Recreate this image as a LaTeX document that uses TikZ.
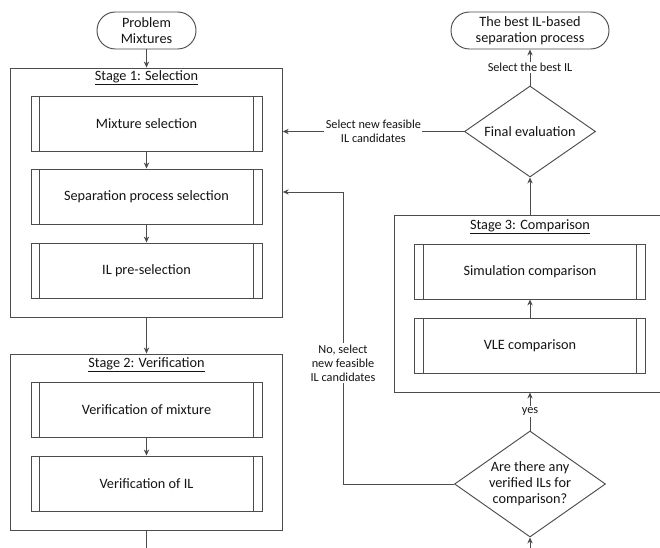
\documentclass[tikz,border=0pt]{standalone}
\usepackage{fontspec}
\setmainfont{Carlito}
\usetikzlibrary{shapes.geometric,arrows.meta}
\colorlet{ln}{black!70}
\tikzset{
  arr/.style={-{Stealth[length=4.5pt,width=4pt]}},
  term/.style={draw=ln, rounded corners=13.8pt, minimum height=27.75pt, align=center, inner sep=1pt},
  stage/.style={draw=ln},
  subproc/.style={draw=ln, minimum width=173.25pt, minimum height=41.25pt,
    path picture={\draw[ln] ([xshift=6.5pt]path picture bounding box.north west) -- ([xshift=6.5pt]path picture bounding box.south west)
      ([xshift=-6.5pt]path picture bounding box.north east) -- ([xshift=-6.5pt]path picture bounding box.south east);}},
  decision/.style={diamond, draw=ln, align=center, inner sep=0pt},
  lab/.style={fill=white, text=black!92, font=\fontsize{9.2}{10.6}\selectfont, align=center, inner sep=1pt},
}
\begin{document}
\begin{tikzpicture}[x=0.75pt,y=-0.75pt,line width=0.7pt,font=\fontsize{10.7}{12}\selectfont,text=black!92]
\clip (0,0) rectangle (660,548);
\fill[white] (0,0) rectangle (660,548);
\node[term, minimum width=74.25pt] (pm) at (146.5,30.5) {Problem\\Mixtures};
\node[term, minimum width=118.5pt] (best) at (530,30.5) {The best IL-based\\separation process};
\node[stage, minimum width=203.6pt, minimum height=186.75pt] (st1) at (146.5,192.5) {};
\node (t1) at (146.5,78) {\underline{Stage 1: Selection}};
\node[subproc] (mix) at (146.5,123.5) {Mixture selection};
\node[subproc] (sep) at (146.5,196.5) {Separation process selection};
\node[subproc] (ilp) at (146.5,270.5) {IL pre-selection};
\node[stage, minimum width=204.4pt, minimum height=132pt] (st2) at (146.5,442) {};
\node (t2) at (146.5,365) {\underline{Stage 2: Verification}};
\node[subproc] (vmix) at (146.5,409.5) {Verification of mixture};
\node[subproc] (vil) at (146.5,483.5) {Verification of IL};
\node[stage, minimum width=204pt, minimum height=132.4pt] (st3) at (530,303.75) {};
\node (t3) at (530,227) {\underline{Stage 3: Comparison}};
\node[subproc] (sim) at (530,271.5) {Simulation comparison};
\node[subproc] (vle) at (530,345.5) {VLE comparison};
\node[decision, shape aspect=1.44, minimum width=98.25pt, minimum height=68.25pt] (fe) at (530,131.5) {Final evaluation};
\node[decision, shape aspect=1.42, minimum width=113.25pt, minimum height=79.5pt] (q) at (530,484) {Are there any\\verified ILs for\\comparison?};
\coordinate (s2out) at (146.5,548);
\coordinate (qin) at (530,548);
\coordinate (back) at (343,192);
\draw[ln,arr] (pm) -- (st1);
\draw[ln,arr] (mix) -- (sep);
\draw[ln,arr] (sep) -- (ilp);
\draw[ln,arr] (st1) -- (st2);
\draw[ln,arr] (vmix) -- (vil);
\draw[ln] (st2) -- (s2out);
\draw[ln,arr] (qin) -- (q);
\draw[ln,arr] (q) -- node[lab] {yes} (st3);
\draw[ln,arr] (vle) -- (sim);
\draw[ln,arr] (st3) -- (fe);
\draw[ln,arr] (fe) -- node[lab] {Select the best IL} (best);
\draw[ln,arr] (fe.west) -- node[lab] {Select new feasible\\IL candidates} (fe.west -| st1.east);
\draw[ln] (q.west) -| node[lab, pos=0.707] {No, select\\new feasible\\IL candidates} (back);
\draw[ln,arr] (back) -- (back -| st1.east);
\end{tikzpicture}
\end{document}
